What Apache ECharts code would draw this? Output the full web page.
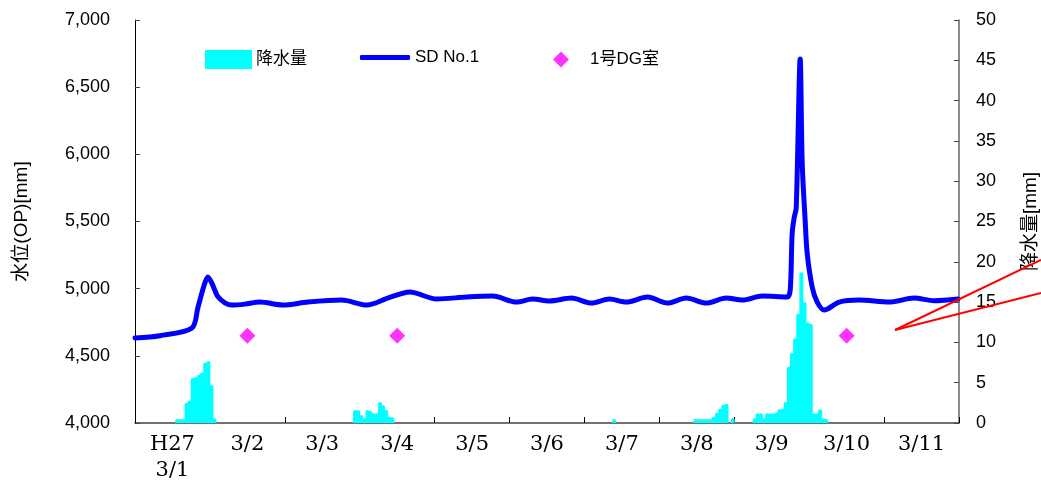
<!DOCTYPE html>
<html>
<head>
<meta charset="utf-8">
<script src="https://cdn.jsdelivr.net/npm/echarts@6/dist/echarts.min.js"></script>
<style>html,body{margin:0;padding:0;background:#fff}#chart{width:1041px;height:482px}</style>
</head>
<body>
<div id="chart"></div>
<script>
// 日付ラベル（1日ごと）
var dayLabels = ['H27\n3/1', '3/2', '3/3', '3/4', '3/5', '3/6', '3/7', '3/8', '3/9', '3/10', '3/11'];

// 水位 SD No.1 : 3/1 0時からの経過日数 と 水位[mm]
var levelDays = [0, 0.333, 0.76, 0.84, 0.92, 0.973, 1.027, 1.107, 1.2, 1.293, 1.467, 1.667, 1.973, 2.307, 2.76,
  3.093, 3.4, 3.667, 4.027, 4.427, 4.773, 5.093, 5.307, 5.533, 5.827, 6.093, 6.333, 6.56, 6.84, 7.107, 7.36,
  7.627, 7.893, 8.107, 8.373, 8.707, 8.747, 8.773, 8.8, 8.827, 8.88, 8.907, 8.947, 8.973, 9.04, 9.107, 9.2,
  9.4, 9.667, 10.067, 10.4, 10.667, 10.987];
var levelValues = [4633, 4650, 4707, 4860, 5020, 5087, 5040, 4940, 4895, 4878, 4885, 4900, 4878, 4900, 4915,
  4878, 4935, 4975, 4923, 4938, 4945, 4900, 4923, 4908, 4930, 4893, 4923, 4900, 4938, 4893, 4930,
  4893, 4930, 4915, 4945, 4938, 4990, 5414, 5530, 5600, 6710, 5935, 5500, 5265, 5012, 4900, 4841,
  4900, 4915, 4900, 4930, 4910, 4923];

// 降水量（時間番号 = 3/1 0時からの時間, 値[mm]）
var rainHours = [13, 14, 15, 16, 17, 18, 19, 20, 21, 22, 23, 24, 25,
  70, 71, 72, 73, 74, 75, 76, 77, 78, 79, 80, 81, 82,
  153,
  179, 180, 181, 182, 183, 184, 185, 186, 187, 188, 189, 191,
  198, 199, 200, 201, 202, 203, 204, 205, 206, 207, 208, 209, 210, 211, 212, 213, 214, 215, 216, 217, 218, 219, 220, 221];
var rainValues = [0.5, 0.5, 0.5, 2.5, 2.8, 5.6, 5.7, 6.0, 6.3, 7.5, 7.7, 4.7, 0.6,
  1.6, 1.6, 1.0, 0.6, 1.6, 1.5, 1.2, 1.2, 2.6, 2.2, 1.6, 0.8, 0.7,
  0.5,
  0.5, 0.5, 0.5, 0.5, 0.5, 0.5, 0.8, 1.3, 1.8, 2.3, 2.4, 0.6,
  0.6, 1.2, 1.2, 0.6, 1.2, 1.2, 1.2, 1.3, 1.7, 1.8, 2.6, 7.0, 8.7, 10.5, 13.6, 18.7, 15.0, 12.5, 12.3, 1.2, 1.2, 1.7, 0.6, 0.5];

// 1号DG室
var dgDays = [1.5, 3.5, 9.5];
var dgValues = [4650, 4650, 4650];

var levelData = levelDays.map(function (d, i) { return [d, levelValues[i]]; });
var rainData = rainHours.map(function (h, i) { return [(h + 0.5) / 24, rainValues[i]]; });
var dgData = dgDays.map(function (d, i) { return [d, dgValues[i]]; });

var chart = echarts.init(document.getElementById('chart'));

var sans = 'Liberation Sans, Arial, Noto Sans CJK JP, sans-serif';
var legendText = { fontSize: 17, color: '#000', fontFamily: sans };

var option = {
  animation: false,
  grid: { left: 135, right: 82, top: 20, bottom: 59, outerBoundsMode: 'none', containLabel: false },
  legend: [
    { data: [{ name: '降水量', icon: 'rect' }], left: 200, top: 45, itemWidth: 45, itemHeight: 17, textStyle: legendText },
    {
      data: [{ name: 'SD No.1', icon: 'roundRect' }], left: 355, top: 44, itemWidth: 50, itemHeight: 5,
      itemStyle: { color: '#0000FF' }, textStyle: legendText
    },
    {
      data: [{ name: '1号DG室', icon: 'diamond' }], left: 548, top: 46, itemWidth: 16, itemHeight: 16,
      textStyle: { fontSize: 17, color: '#000', fontFamily: sans, padding: [0, 0, 0, 16] }
    }
  ],
  xAxis: [
    {
      type: 'value', min: 0, max: 11, interval: 1,
      axisLine: { lineStyle: { color: '#444', width: 1.5 } },
      axisTick: { inside: true, length: 6, lineStyle: { color: '#000' } },
      axisLabel: { show: false },
      splitLine: { show: false }
    },
    {
      type: 'category', data: dayLabels, position: 'bottom', boundaryGap: true,
      axisLine: { show: false }, axisTick: { show: false },
      axisLabel: { fontFamily: 'DejaVu Serif, serif', fontSize: 21, color: '#000', margin: 9, lineHeight: 26 }
    }
  ],
  yAxis: [
    {
      type: 'value', min: 4000, max: 7000, interval: 500,
      name: '水位(OP)[mm]', nameLocation: 'middle', nameGap: 104, nameRotate: 90,
      nameTextStyle: { fontSize: 19, color: '#000', fontFamily: sans },
      axisLine: { show: true, lineStyle: { color: '#000', width: 1 } },
      axisTick: { show: true, inside: true, length: 5, lineStyle: { color: '#444' } },
      axisLabel: {
        fontSize: 18, color: '#000', fontFamily: sans, margin: 25,
        formatter: function (v) { return v.toLocaleString('en-US'); }
      },
      splitLine: { show: false }
    },
    {
      type: 'value', min: 0, max: 50, interval: 5, position: 'right',
      name: '降水量[mm]', nameLocation: 'middle', nameGap: 62, nameRotate: 90,
      nameTextStyle: { fontSize: 19, color: '#000', fontFamily: sans },
      axisLine: { show: true, lineStyle: { color: '#666', width: 1.5 } },
      axisTick: { show: true, inside: true, length: 5, lineStyle: { color: '#444' } },
      axisLabel: { fontSize: 18, color: '#000', fontFamily: sans, margin: 17 },
      splitLine: { show: false }
    }
  ],
  series: [
    {
      name: '降水量', type: 'bar', xAxisIndex: 0, yAxisIndex: 1,
      data: rainData, barWidth: 4, z: 2,
      itemStyle: { color: '#00FFFF', borderColor: '#00FFFF', borderWidth: 1.5, borderRadius: [2, 2, 0, 0] }
    },
    {
      name: 'SD No.1', type: 'line', xAxisIndex: 0, yAxisIndex: 0,
      data: levelData, symbol: 'none', z: 3, smooth: 0.3,
      lineStyle: { color: '#0000FF', width: 5, join: 'round', cap: 'round' },
      itemStyle: { color: '#0000FF' }
    },
    {
      name: '1号DG室', type: 'scatter', xAxisIndex: 0, yAxisIndex: 0,
      data: dgData, symbol: 'diamond', symbolSize: 16, z: 4,
      itemStyle: { color: '#FF00FF' }
    }
  ],
  graphic: [
    { type: 'line', z: 100, shape: { x1: 895, y1: 330, x2: 1041, y2: 260 }, style: { stroke: '#FF0000', lineWidth: 2 } },
    { type: 'line', z: 100, shape: { x1: 895, y1: 330, x2: 1041, y2: 293 }, style: { stroke: '#FF0000', lineWidth: 2 } }
  ]
};

chart.setOption(option);
</script>
</body>
</html>
